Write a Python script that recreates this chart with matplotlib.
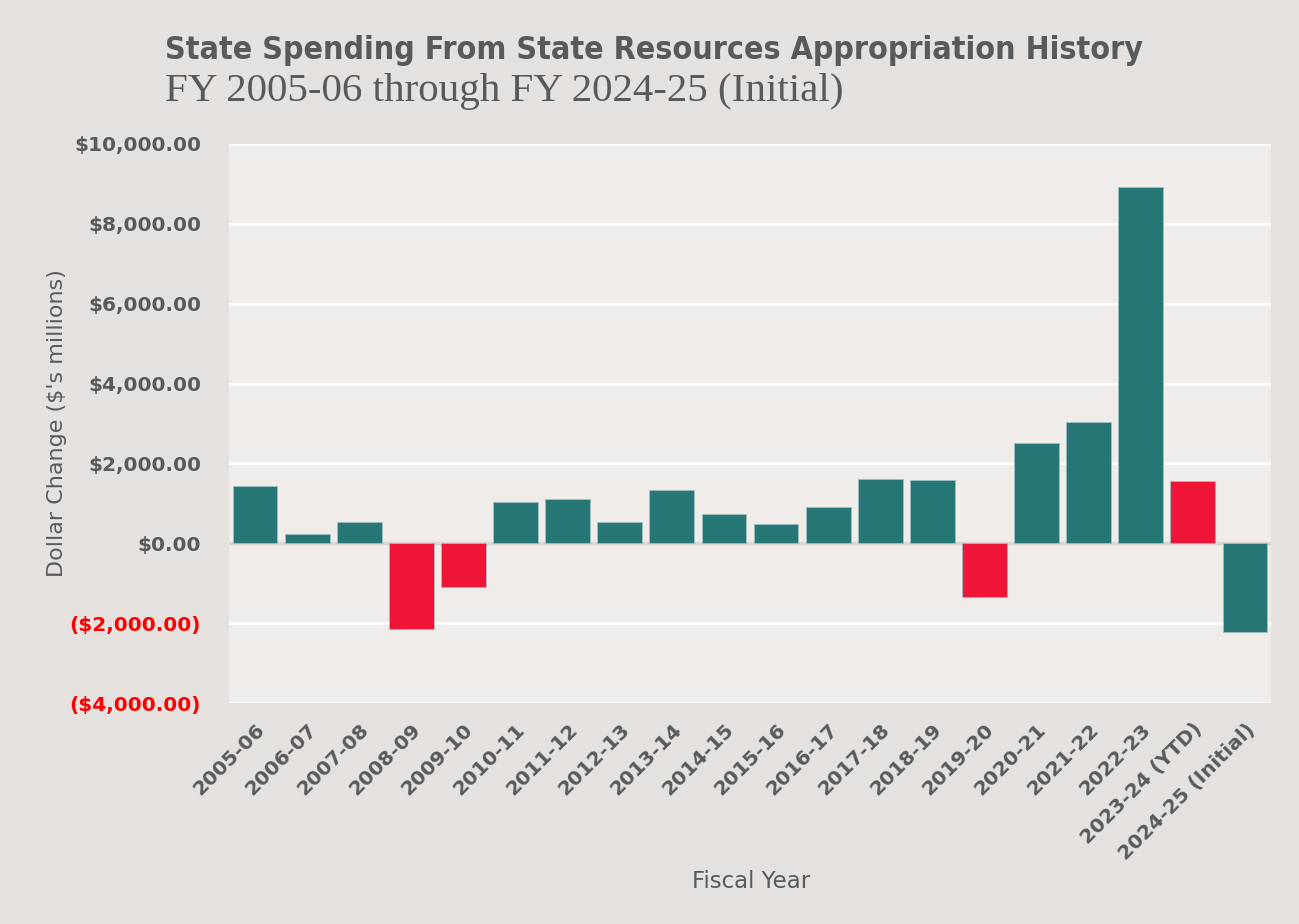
import matplotlib
matplotlib.use("Agg")
import matplotlib.pyplot as plt
from matplotlib.ticker import FuncFormatter

categories = ["2005-06", "2006-07", "2007-08", "2008-09", "2009-10", "2010-11",
              "2011-12", "2012-13", "2013-14", "2014-15", "2015-16", "2016-17",
              "2017-18", "2018-19", "2019-20", "2020-21", "2021-22", "2022-23",
              "2023-24 (YTD)", "2024-25 (Initial)"]
values = [1430, 240, 530, -2150, -1090, 1040, 1100, 525, 1340, 725, 490, 900,
          1600, 1575, -1340, 2500, 3040, 8925, 1557, -2210]
bar_colors = ["#267676"] * 3 + ["#EF1539"] * 2 + ["#267676"] * 9 + ["#EF1539"] + \
             ["#267676"] * 3 + ["#EF1539"] + ["#267676"]
y_ticks = [-4000, -2000, 0, 2000, 4000, 6000, 8000, 10000]

FIG_BG = "#E5E1DE"
AX_BG = "#EFECE9"
GRAY = "#595959"

fig = plt.figure(figsize=(12.99, 9.24), dpi=100, facecolor=FIG_BG)
ax = fig.add_axes([229/1299, 1 - 703/924, (1271-229)/1299, (703-144)/924])
ax.set_facecolor(AX_BG)

x = list(range(len(categories)))
ax.bar(x, values, width=0.86, color=bar_colors, edgecolor="#9FBFBF", linewidth=0.6, zorder=3)
ax.axhline(0, color="#D9D6D3", linewidth=2.5, zorder=2)

ax.set_xlim(-0.5, len(categories) - 0.5)
ax.set_ylim(-4000, 10000)
ax.set_yticks(y_ticks)
ax.yaxis.grid(True, color="white", linewidth=2, zorder=1)
ax.set_axisbelow(True)

def fmt(v, pos):
    if v < 0:
        return "(${:,.2f})".format(-v)
    return "${:,.2f}".format(v)
ax.yaxis.set_major_formatter(FuncFormatter(fmt))
for lbl, v in zip(ax.get_yticklabels(), y_ticks):
    lbl.set_fontweight("bold")
    lbl.set_fontsize(14.5)
    lbl.set_color("#FF0000" if v < 0 else GRAY)

ax.set_xticks(x)
ax.set_xticklabels(categories, rotation=45, ha="right", va="top",
                   rotation_mode="anchor", fontsize=14.5, fontweight="bold", color=GRAY)
ax.tick_params(axis="both", length=0)
ax.tick_params(axis="y", pad=20)
ax.tick_params(axis="x", pad=12)
for s in ax.spines.values():
    s.set_visible(False)

fig.text(57/1299, 1 - 423/924, "Dollar Change ($'s millions)", rotation=90,
         ha="center", va="center", fontsize=16, color=GRAY)
fig.text(751/1299, 1 - 882/924, "Fiscal Year", ha="center", va="center",
         fontsize=16.5, color=GRAY)

fig.text(165/1299, 1 - 50/924, "State Spending From State Resources Appropriation History",
         ha="left", va="center", fontsize=23, fontweight="bold", color=GRAY,
         family=["Liberation Sans Narrow", "DejaVu Sans"], fontstretch="condensed")
fig.text(165/1299, 1 - 92/924, "FY 2005-06 through FY 2024-25 (Initial)",
         ha="left", va="center", fontsize=29.5, color=GRAY, family="Liberation Serif")

fig.savefig("out.png", dpi=100, facecolor=FIG_BG)
